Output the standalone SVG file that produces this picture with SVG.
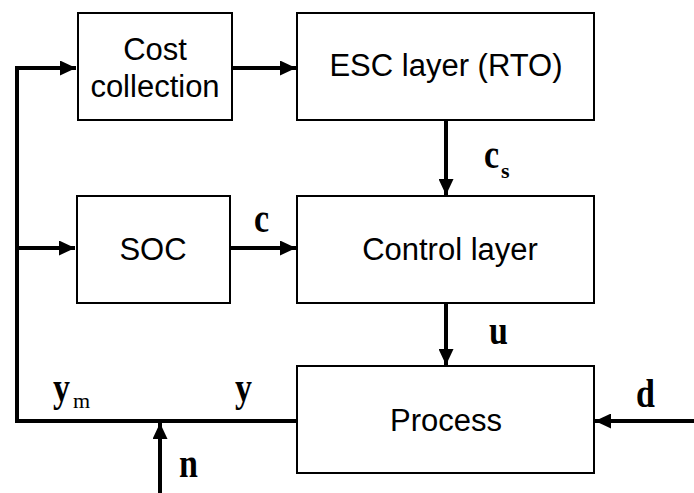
<svg xmlns="http://www.w3.org/2000/svg" width="694" height="493" viewBox="0 0 694 493">
<defs>
<marker id="ah" markerUnits="userSpaceOnUse" markerWidth="17" markerHeight="15" refX="16" refY="7.5" orient="auto">
<path d="M0,0 L16,7.5 L0,15 z" fill="#000"/>
</marker>
</defs>
<style>
.box{fill:#fff;stroke:#000;stroke-width:2}
.lbl{font-family:"Liberation Sans",Arial,sans-serif;font-size:31px;fill:#000;text-anchor:middle}
.var{font-family:"Liberation Serif","Times New Roman",serif;font-weight:bold;font-size:34px;fill:#000}
.sub{font-family:"Liberation Serif","Times New Roman",serif;font-size:22px;fill:#000}
.wire{fill:none;stroke:#000;stroke-width:4}
</style>
<g id="cost">
<rect class="box" x="78" y="13" width="154" height="107"/>
<text class="lbl" x="155" y="60">Cost</text>
<text class="lbl" x="155" y="97">collection</text>
</g>
<g id="esc">
<rect class="box" x="297" y="13" width="297" height="107"/>
<text class="lbl" x="446" y="76">ESC layer (RTO)</text>
</g>
<g id="soc">
<rect class="box" x="77" y="196" width="153" height="107"/>
<text class="lbl" x="153" y="260">SOC</text>
</g>
<g id="control">
<rect class="box" x="297" y="196" width="297" height="107"/>
<text class="lbl" x="450" y="260">Control layer</text>
</g>
<g id="process">
<rect class="box" x="297" y="366" width="297" height="107"/>
<text class="lbl" x="446" y="431">Process</text>
</g>
<g id="connectors">
<polyline class="wire" points="297,421 17,421 17,68 76,68" marker-end="url(#ah)"/>
<line class="wire" x1="17" y1="248" x2="75" y2="248" marker-end="url(#ah)"/>
<line class="wire" x1="232" y1="68" x2="296" y2="68" marker-end="url(#ah)"/>
<line class="wire" x1="230" y1="248" x2="296" y2="248" marker-end="url(#ah)"/>
<line class="wire" x1="446" y1="120" x2="446" y2="195" marker-end="url(#ah)"/>
<line class="wire" x1="446" y1="303" x2="446" y2="365" marker-end="url(#ah)"/>
<line class="wire" x1="694" y1="421" x2="595" y2="421" marker-end="url(#ah)"/>
<line class="wire" x1="160" y1="493" x2="160" y2="423" marker-end="url(#ah)"/>
</g>
<g id="labels">
<text class="var" transform="translate(254,232) scale(1,1.15)">c</text>
<text class="var" transform="translate(484,168) scale(1,1.15)">c</text>
<text class="sub" x="501" y="178" font-weight="bold" font-size="18">s</text>
<text class="var" transform="translate(489,344) scale(1,1.15)">u</text>
<text class="var" transform="translate(636,407) scale(1,1.15)">d</text>
<text class="var" transform="translate(53,401) scale(1,1.15)">y</text>
<text class="sub" x="73" y="408">m</text>
<text class="var" transform="translate(235,401) scale(1,1.15)">y</text>
<text class="var" transform="translate(179,477) scale(1,1.15)">n</text>
</g>
</svg>
